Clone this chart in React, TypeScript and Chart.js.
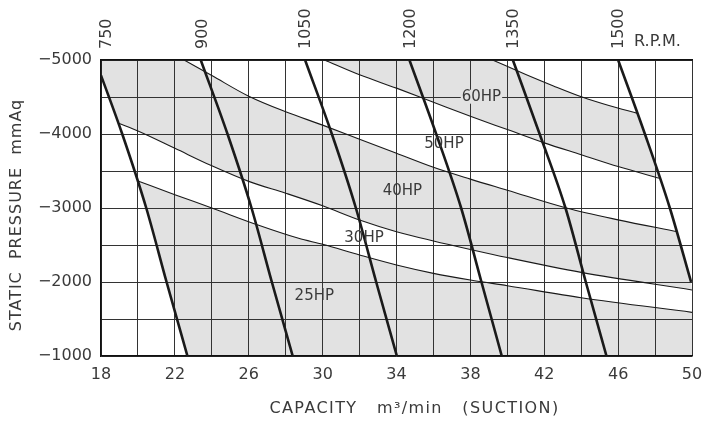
import React, { useEffect, useRef } from 'react';
import { Chart, registerables } from 'chart.js';

Chart.register(...registerables);

// ---- axes ----
const xMin = 18;
const xMax = 50;
const yMin = -5000;
const yMax = -1000;

// ---- top R.P.M. labels ----
const rpmLabels = ['750', '900', '1050', '1200', '1350', '1500'];
const rpmLabelX = [18.32, 23.5, 29.05, 34.75, 40.35, 46.0];

// ---- constant-speed (R.P.M.) lines ----
const rpm750X = [18, 19.15, 20.45, 21.55, 22.68];
const rpm750Y = [-4793, -4000, -3000, -2000, -1000];
const rpm900X = [23.4, 24.85, 26.15, 27.25, 28.38];
const rpm900Y = [-5000, -4000, -3000, -2000, -1000];
const rpm1050X = [29.05, 30.5, 31.8, 32.9, 34.02];
const rpm1050Y = [-5000, -4000, -3000, -2000, -1000];
const rpm1200X = [34.7, 36.15, 37.5, 38.6, 39.7];
const rpm1200Y = [-5000, -4000, -3000, -2000, -1000];
const rpm1350X = [40.3, 41.75, 43.15, 44.25, 45.37];
const rpm1350Y = [-5000, -4000, -3000, -2000, -1000];
const rpm1500X = [46.0, 47.45, 48.8, 49.95];
const rpm1500Y = [-5000, -4000, -3000, -2000];

// ---- power limit curves ----
const hp60X = [39.2, 41, 42.5, 44.05, 45.5, 47.06];
const hp60Y = [-5000, -4805, -4650, -4500, -4385, -4279];
const hp50X = [30.1, 32, 34, 36, 38, 40, 42, 44, 46, 48.25];
const hp50Y = [-5000, -4800, -4620, -4430, -4240, -4060, -3880, -3720, -3560, -3401];
const hp40X = [22.5, 24, 26, 28, 30, 32, 34, 36, 38, 40, 43.2, 46, 49.2];
const hp40Y = [-5000, -4790, -4510, -4300, -4120, -3930, -3740, -3550, -3390, -3240, -3000, -2840, -2680];
const hp30X = [18.95, 20, 22, 24, 26, 28, 30, 32, 34, 36, 38, 40, 44, 50];
const hp30Y = [-4144, -4040, -3806, -3570, -3360, -3200, -3030, -2838, -2680, -2555, -2440, -2330, -2130, -1892];
const hp25X = [20.0, 22, 24, 26.5, 28.7, 30, 32, 34, 36, 38, 40, 44, 50];
const hp25Y = [-3365, -3180, -3000, -2770, -2590, -2509, -2365, -2230, -2117, -2027, -1950, -1788, -1590];

// ---- curve labels ----
const hpText = ['60HP', '50HP', '40HP', '30HP', '25HP'];
const hpTextX = [38.6, 36.57, 34.32, 32.24, 29.55];
const hpTextY = [-4504, -3858, -3223, -2588, -1804];

const FONT = '"DejaVu Sans", "Liberation Sans", sans-serif';
const INK = '#1a1a1a';
const TEXT = '#3a3a3a';
const SHADE = '#e2e2e2';

type P = { x: number; y: number };
const pts = (xs: number[], ys: number[]): P[] => xs.map((x, i) => ({ x, y: ys[i] }));

const poly60: P[] = [
  ...pts(hp50X, hp50Y),
  { x: rpm1500X[1], y: rpm1500Y[1] },
  ...pts(hp60X, hp60Y).reverse(),
];
const poly40: P[] = [
  { x: xMin, y: yMin },
  ...pts(hp40X, hp40Y),
  { x: rpm1500X[3], y: rpm1500Y[3] },
  ...pts(hp30X, hp30Y).reverse(),
  { x: rpm750X[0], y: rpm750Y[0] },
];
const poly25: P[] = [
  ...pts(hp25X, hp25Y),
  { x: xMax, y: yMax },
  ...pts(rpm750X.slice(2), rpm750Y.slice(2)).reverse(),
];

const textPlugin = {
  id: 'fanText',
  afterDraw(chart: any) {
    const { ctx, scales, chartArea } = chart;
    const x = scales.x;
    const y = scales.y;
    ctx.save();
    ctx.font = `15px ${FONT}`;
    ctx.textAlign = 'center';
    ctx.textBaseline = 'middle';
    hpText.forEach((t, i) => {
      const px = x.getPixelForValue(hpTextX[i]);
      const py = y.getPixelForValue(hpTextY[i]);
      if (i === 0) {
        const w = ctx.measureText(t).width;
        ctx.fillStyle = SHADE;
        ctx.fillRect(px - w / 2 - 1, py - 7, w + 2, 14);
      }
      ctx.fillStyle = TEXT;
      ctx.fillText(t, px, py);
    });
    // R.P.M.
    ctx.font = `16px ${FONT}`;
    ctx.textAlign = 'left';
    ctx.fillStyle = TEXT;
    ctx.fillText('R.P.M.', chartArea.right - 58, chartArea.top - 18);
    // axis titles
    (ctx as any).letterSpacing = '1.4px';
    ctx.font = `16px ${FONT}`;
    ctx.textAlign = 'center';
    ctx.fillText('CAPACITY   m\u00B3/min   (SUCTION)', (chartArea.left + chartArea.right) / 2 + 18, chartArea.bottom + 53);
    (ctx as any).letterSpacing = '1px';
    ctx.save();
    ctx.translate(17, (chartArea.top + chartArea.bottom) / 2 + 7);
    ctx.rotate(-Math.PI / 2);
    ctx.fillText('STATIC  PRESSURE  mmAq', 0, 0);
    ctx.restore();
    ctx.restore();
  },
};

const noPad = (s: any) => {
  s.paddingLeft = 0;
  s.paddingRight = 0;
  s.paddingTop = 0;
  s.paddingBottom = 0;
};

export default function App() {
  const ref = useRef<HTMLCanvasElement | null>(null);

  useEffect(() => {
    if (!ref.current) return;
    const lineDs = (data: P[], width: number) => ({
      data,
      borderColor: INK,
      borderWidth: width,
      pointRadius: 0,
      fill: false,
      tension: 0.3,
      cubicInterpolationMode: 'monotone' as const,
    });
    const polyDs = (data: P[]) => ({
      data,
      borderWidth: 0,
      borderColor: 'rgba(0,0,0,0)',
      backgroundColor: SHADE,
      pointRadius: 0,
      fill: 'shape',
      tension: 0,
    });
    const chart = new Chart(ref.current, {
      type: 'line',
      data: {
        datasets: [
          lineDs(pts(rpm750X, rpm750Y), 2.6),
          lineDs(pts(rpm900X, rpm900Y), 2.6),
          lineDs(pts(rpm1050X, rpm1050Y), 2.6),
          lineDs(pts(rpm1200X, rpm1200Y), 2.6),
          lineDs(pts(rpm1350X, rpm1350Y), 2.6),
          lineDs(pts(rpm1500X, rpm1500Y), 2.6),
          lineDs(pts(hp60X, hp60Y), 1.1),
          lineDs(pts(hp50X, hp50Y), 1.1),
          lineDs(pts(hp40X, hp40Y), 1.1),
          lineDs(pts(hp30X, hp30Y), 1.1),
          lineDs(pts(hp25X, hp25Y), 1.1),
          polyDs(poly60),
          polyDs(poly40),
          polyDs(poly25),
        ] as any,
      },
      options: {
        animation: false,
        responsive: false,
        events: [],
        layout: { padding: { left: 0, right: 11, top: 0, bottom: 0 } },
        plugins: {
          legend: { display: false },
          tooltip: { enabled: false },
          filler: { drawTime: 'beforeDraw' } as any,
        },
        scales: {
          x: {
            type: 'linear',
            position: 'bottom',
            min: xMin,
            max: xMax,
            ticks: {
              stepSize: 2,
              autoSkip: false,
              maxRotation: 0,
              padding: 9,
              color: TEXT,
              font: { family: FONT, size: 16 },
              callback: (v: any) => ((Number(v) - xMin) % 4 === 0 ? String(v) : ''),
            },
            grid: { color: '#333', lineWidth: 1, drawTicks: false },
            border: { color: '#111', width: 1.5 },
            afterFit: (s: any) => {
              s.height = 65;
              noPad(s);
            },
          },
          x2: {
            type: 'linear',
            position: 'top',
            min: xMin,
            max: xMax,
            grid: { display: false, drawTicks: false },
            border: { color: '#111', width: 1.5 },
            afterBuildTicks: (s: any) => {
              s.ticks = rpmLabelX.map((v) => ({ value: v }));
            },
            ticks: {
              autoSkip: false,
              minRotation: 90,
              maxRotation: 90,
              padding: 11,
              labelOffset: 19.5,
              color: TEXT,
              font: { family: FONT, size: 16 },
              callback: (_v: any, i: number) => rpmLabels[i],
            },
            afterFit: (s: any) => {
              s.height = 60;
              noPad(s);
            },
          },
          y: {
            type: 'linear',
            min: yMin,
            max: yMax,
            reverse: true,
            ticks: {
              stepSize: 500,
              padding: 9,
              color: TEXT,
              font: { family: FONT, size: 16 },
              callback: (v: any) => (Number(v) % 1000 === 0 ? '\u2212' + Math.abs(Number(v)) : ''),
            },
            grid: { color: '#333', lineWidth: 1, drawTicks: false },
            border: { color: '#111', width: 1.5 },
            afterFit: (s: any) => {
              s.width = 101;
              noPad(s);
            },
          },
        },
      } as any,
      plugins: [textPlugin],
    });
    return () => chart.destroy();
  }, []);

  return (
    <div style={{ position: 'fixed', left: 0, top: 0, width: 703, height: 421, background: '#fff' }}>
      <canvas ref={ref} width={703} height={421} style={{ display: 'block' }} />
    </div>
  );
}
